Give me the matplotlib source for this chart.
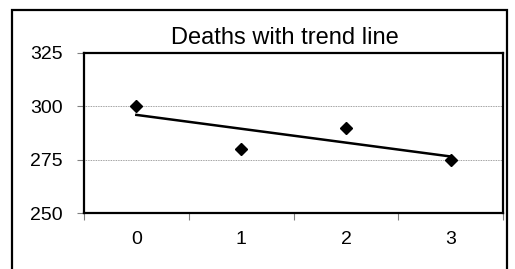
import numpy as np
import matplotlib.pyplot as plt
from matplotlib.patches import Rectangle

plt.rcParams['font.family'] = ['Liberation Sans', 'DejaVu Sans']

# Data
categories = ['0', '1', '2', '3']
deaths = [300, 280, 290, 275]

x = np.arange(len(categories))

fig = plt.figure(figsize=(5.15, 2.69), dpi=100)

# outer chart border
fig.patches.append(Rectangle((0.0233, -0.02), 0.9612, 0.983, transform=fig.transFigure,
                             fill=False, edgecolor='black', linewidth=1.6))

ax = fig.add_axes([0.163, 0.208, 0.814, 0.595])

# linear trend line
slope, intercept = np.polyfit(x, deaths, 1)
ax.plot(x, slope * x + intercept, color='black', linewidth=1.8, zorder=3)
ax.plot(x, deaths, linestyle='none', marker='D', markersize=6.5,
        color='black', zorder=4)

ax.set_xlim(-0.5, len(categories) - 0.5)
ax.set_ylim(250, 325)
ax.set_yticks([250, 275, 300, 325])
ax.set_xticks(x)
ax.set_xticklabels(categories)
ax.set_xticks(np.arange(-0.5, len(categories)), minor=True)
ax.tick_params(axis='x', which='major', length=0, pad=13, labelsize=14)
ax.tick_params(axis='x', which='minor', length=5, width=0.8, color='gray')
ax.tick_params(axis='y', length=5, width=0.8, color='gray', labelsize=14, pad=10)

for yv in [275, 300]:
    ax.axhline(yv, color='gray', linestyle=(0, (1, 1)), linewidth=0.6, zorder=1)

for s in ax.spines.values():
    s.set_linewidth(1.6)

fig.text(0.553, 0.857, 'Deaths with trend line', ha='center', va='center', fontsize=17)

fig.savefig('out.png', dpi=100)
